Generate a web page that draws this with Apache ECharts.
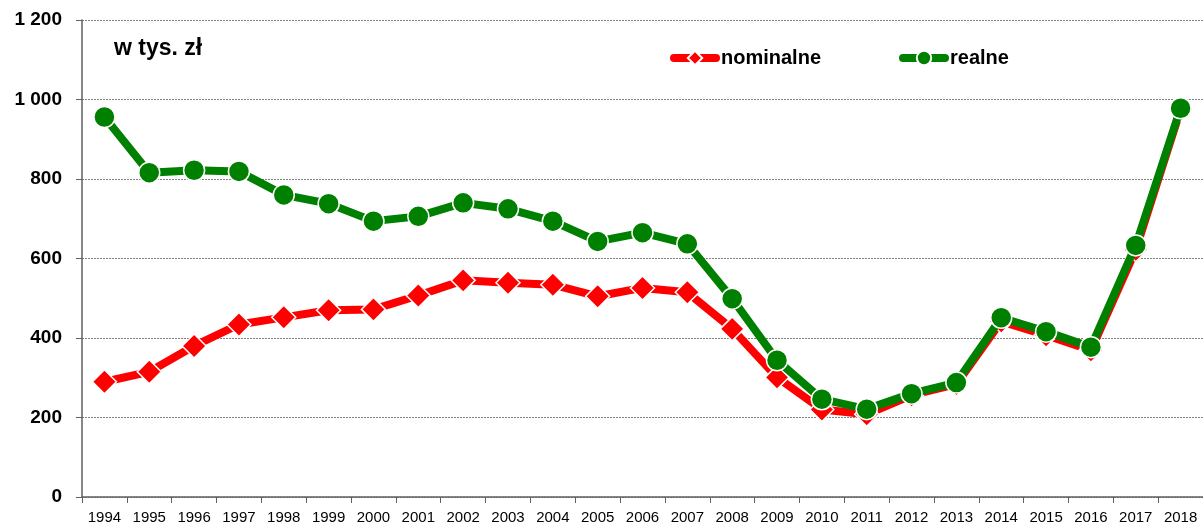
<!DOCTYPE html>
<html>
<head>
<meta charset="utf-8">
<script src="https://cdn.jsdelivr.net/npm/echarts@6/dist/echarts.min.js"></script>
<style>
html,body{margin:0;padding:0;background:#fff;}
#chart{width:1203px;height:525px;}
</style>
</head>
<body>
<div id="chart"></div>
<script>
const years = ['1994','1995','1996','1997','1998','1999','2000','2001','2002','2003','2004','2005','2006','2007','2008','2009','2010','2011','2012','2013','2014','2015','2016','2017','2018'];
const nominalne = [290,315,380,434,452,470,472,507,545,539,534,505,526,515,423,301,220,208,256,284,442,407,369,622,975];
const realne = [956,816,822,819,760,738,694,706,740,725,694,643,665,637,499,344,246,221,260,288,451,416,377,633,978];
const seriesNames = ['nominalne','realne'];
const unitLabel = 'w tys. zł';
const yTicks = {min:0, max:1200, interval:200};

const chart = echarts.init(document.getElementById('chart'));
const fontFam = '"Liberation Sans", Arial, sans-serif';
chart.setOption({
  animation:false,
  backgroundColor:'#ffffff',
  textStyle:{fontFamily:fontFam},
  grid:{left:82, top:20, width:1125, height:478, containLabel:false},
  graphic:[{type:'text', x:114, y:49, style:{text:unitLabel, font:'bold 23px '+fontFam, fill:'#000', verticalAlign:'middle'}}],
  legend:{
    left:665, top:43, itemWidth:42, itemHeight:18, itemGap:78,
    lineStyle:{width:8, cap:'round'},
    textStyle:{fontSize:20, fontWeight:'bold', color:'#000', fontFamily:fontFam},
    data:seriesNames
  },
  xAxis:{
    type:'category', data:years, boundaryGap:true,
    axisLine:{lineStyle:{color:'#606060', width:1.5}},
    axisTick:{show:true, length:6, lineStyle:{color:'#606060'}},
    axisLabel:{fontSize:15, color:'#000', margin:13, interval:0, fontFamily:fontFam},
    splitLine:{show:false}
  },
  yAxis:{
    type:'value', min:yTicks.min, max:yTicks.max, interval:yTicks.interval,
    axisLine:{show:true, lineStyle:{color:'#606060', width:1.5}},
    axisTick:{show:true, length:6, lineStyle:{color:'#606060'}},
    axisLabel:{fontSize:19, fontWeight:'bold', color:'#000', margin:20, fontFamily:fontFam,
      formatter:v=>String(v).replace(/\B(?=(\d{3})+(?!\d))/g,' ')},
    splitLine:{show:true, lineStyle:{color:'#808080', type:[2,1], width:1}}
  },
  series:[
    {name:seriesNames[0], type:'line', data:nominalne, symbol:'diamond', symbolSize:24,
     lineStyle:{color:'#ff0000', width:8}, itemStyle:{color:'#ff0000', borderColor:'#fff', borderWidth:1.5},
     z:2},
    {name:seriesNames[1], type:'line', data:realne, symbol:'circle', symbolSize:21,
     lineStyle:{color:'#008000', width:8}, itemStyle:{color:'#008000', borderColor:'#fff', borderWidth:1.5},
     z:3}
  ]
});
</script>
</body>
</html>
